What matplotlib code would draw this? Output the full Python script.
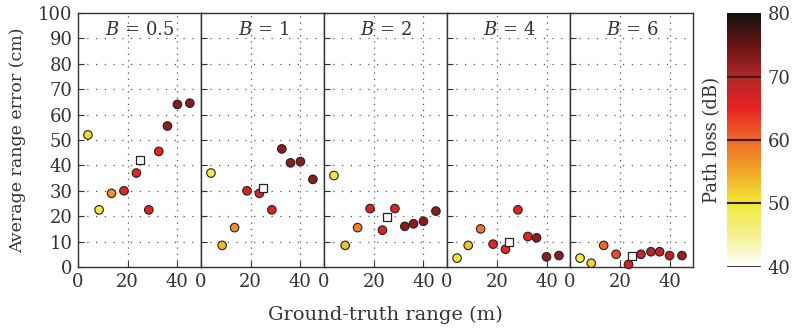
import numpy as np
import matplotlib
matplotlib.use("Agg")
import matplotlib.pyplot as plt
from matplotlib.colors import LinearSegmentedColormap, Normalize

plt.rcParams['font.family'] = ['DejaVu Serif']
plt.rcParams['mathtext.fontset'] = 'dejavuserif'

# data
bandwidths = ['0.5', '1', '2', '4', '6']
ranges = [4, 8.5, 13.5, 18.5, 23.5, 28.5, 32.5, 36, 40, 45]
errors = [
    [52, 22.5, 29, 30, 37, 22.5, 45.5, 55.5, 64, 64.5],
    [37, 8.5, 15.5, 30, 29, 22.5, 46.5, 41, 41.5, 34.5],
    [36, 8.5, 15.5, 23, 14.5, 23, 16, 17, 18, 22],
    [3.5, 8.5, 15, 9, 7, 22.5, 12, 11.5, 4, 4.5],
    [3.5, 1.5, 8.5, 5, 1, 5, 6, 6, 4.5, 4.5],
]
path_loss = [
    [51, 50, 57, 65, 65, 65, 65, 72.5, 72.5, 72.5],
    [49, 54, 57, 66, 66, 66, 72.5, 72.5, 72.5, 72.5],
    [50, 53, 58, 66, 66, 66, 72.5, 72.5, 72.5, 72.5],
    [50, 53, 59, 65, 65, 65, 65, 72.5, 72.5, 72.5],
    [49, 52, 60, 62, 67, 68, 69, 69, 69, 71.5],
]
square_x = [25, 25, 25.5, 25, 25]
square_err = [42, 31, 19.5, 10, 4.5]

cmap = LinearSegmentedColormap.from_list('pl', [
    (0.0, '#ffffff'), (0.125, '#f4f090'), (0.25, '#f0e838'),
    (0.375, '#f0a828'), (0.5, '#f06828'), (0.625, '#e82222'),
    (0.75, '#b02828'), (0.875, '#6a1414'), (1.0, '#101010')])
norm = Normalize(40, 80)

fig = plt.figure(figsize=(7.94, 3.31), dpi=100)
left, right, bottom, top = 0.0982, 0.873, 0.1934, 0.9607
w = (right - left) / 5
fs = 13

for i in range(5):
    ax = fig.add_axes([left + i * w, bottom, w, top - bottom])
    for y in range(10, 100, 10):
        ax.axhline(y, color='#555555', lw=0.9, ls=(0, (1, 6)), zorder=0)
    for x in [20, 40]:
        ax.axvline(x, color='#555555', lw=0.9, ls=(0, (1, 4)), zorder=0)
    ax.scatter(ranges, errors[i], c=path_loss[i], cmap=cmap, norm=norm,
               s=38, edgecolors='#222222', linewidths=0.8, zorder=3, clip_on=False)
    ax.scatter([square_x[i]], [square_err[i]], marker='s', s=40,
               facecolors='white', edgecolors='#222222', linewidths=0.9, zorder=3)
    ax.text(25, 93.5, r'$B$ = ' + bandwidths[i], ha='center', va='center',
            fontsize=fs, color='#333333')
    ax.set_xlim(0, 49.5)
    ax.set_ylim(0, 100)
    ax.set_xticks([0, 20, 40])
    ax.set_yticks(range(0, 101, 10))
    ax.tick_params(direction='in', length=4, labelsize=fs, colors='#333333',
                   labelcolor='#333333', pad=4)
    if i > 0:
        ax.tick_params(labelleft=False)
    for sp in ax.spines.values():
        sp.set_color('#333333')
        sp.set_linewidth(1.0)

fig.text(0.022, 0.577, 'Average range error (cm)', rotation=90, ha='center',
         va='center', fontsize=12.5, color='#333333')
fig.text(0.4855, 0.048, 'Ground-truth range (m)', ha='center', va='center',
         fontsize=14, color='#333333')

cax = fig.add_axes([0.9156, bottom, 0.0428, top - bottom])
cb = fig.colorbar(plt.cm.ScalarMappable(norm=norm, cmap=cmap), cax=cax)
for v in [50, 60, 70]:
    cax.axhline(v, color='#3a1a1a', lw=1.5)
cax.axhline(40, color='#222222', lw=2)
cb.set_ticks([40, 50, 60, 70, 80])
cax.tick_params(length=0, labelsize=fs, labelcolor='#333333', pad=5)
cb.outline.set_visible(False)
fig.text(0.897, 0.577, 'Path loss (dB)', rotation=90, ha='center',
         va='center', fontsize=fs, color='#333333')

fig.savefig('out.png', dpi=100)
